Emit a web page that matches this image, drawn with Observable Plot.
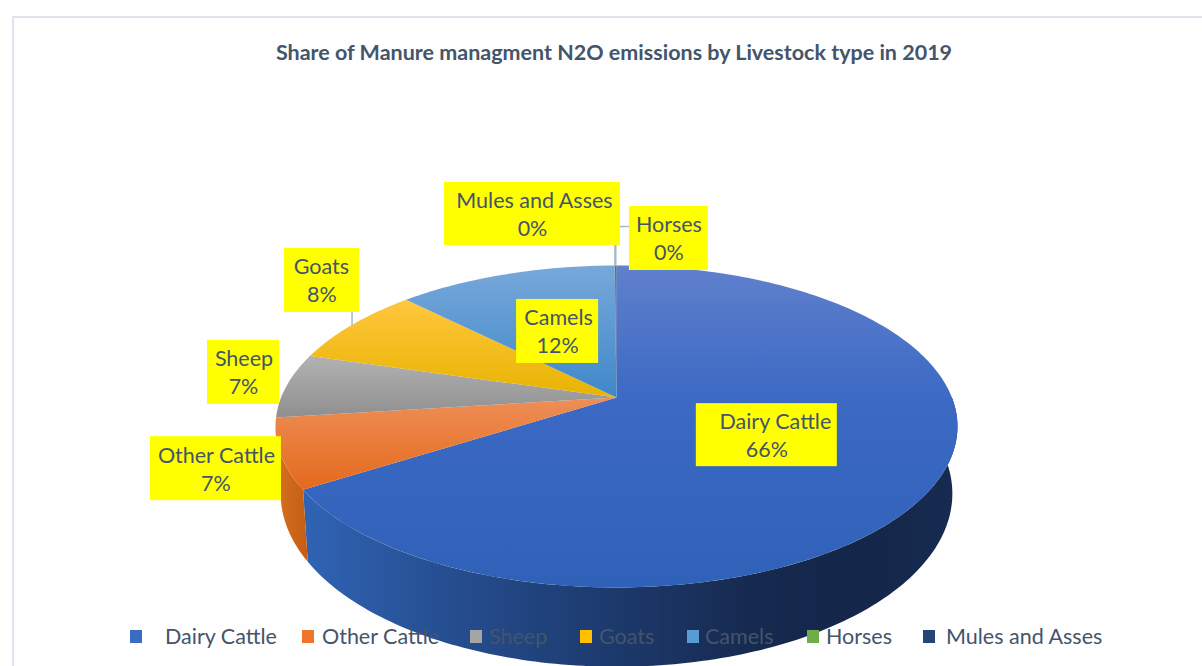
<!DOCTYPE html>
<html>
<head>
<meta charset="utf-8">
<script src="https://cdn.jsdelivr.net/npm/d3@7"></script>
<script src="https://cdn.jsdelivr.net/npm/@observablehq/plot@0.6"></script>
<style>
  html, body { margin: 0; padding: 0; background: #fff; }
  #chart { position: relative; width: 1202px; height: 666px; overflow: hidden; font-family: Lato, sans-serif; color: #44546a; }
  #chart svg { position: absolute; left: 0; top: 0; }
  #frame { position: absolute; left: 12px; top: 16px; width: 1300px; height: 800px; border: 2px solid #dfe4ec; background: #fefefe; }
  #title { position: absolute; left: 0; width: 1228px; top: 38px; text-align: center; font-weight: 700; font-size: 21.5px; line-height: 28px; }
  .lg { position: absolute; top: 622px; font-size: 21.5px; line-height: 28px; white-space: nowrap; }
  .sw { position: absolute; top: 630px; width: 12px; height: 13px; }
</style>
</head>
<body>
<div id="chart">
  <div id="frame"></div>
  <div id="plot"></div>
  <div id="title"></div>
  <div id="legend"></div>
</div>
<script>
// --- data ---
const titleText = "Share of Manure managment N2O emissions by Livestock type in 2019";
const categories = ["Dairy Cattle", "Other Cattle", "Sheep", "Goats", "Camels", "Horses", "Mules and Asses"];
const shares = [66.0, 7.0, 6.5, 8.0, 12.4, 0.02, 0.08];
const swatchColors = ["#3b6cc4", "#ed7428", "#a5a5a5", "#ffc000", "#5b9bd5", "#70ad47", "#264478"];

// --- layout (not data) ---
const W = 1202, H = 666;
const P = {cx: 616, a: 397, b: 84.3, c: -0.18, d: 335.4, depth: 65, lowerScale: 0.985};
// label box: offset of its centre from the slice's rim midpoint, its size, and a shift of the first line
const labelLayout = [
  {dx: -171.5, dy: -44.5, w: 141, h: 63, line1: 8.5},
  {dx: -64.5, dy: 15, w: 131, h: 64, line1: 0.5},
  {dx: -43.3, dy: -13, w: 72, h: 64, line1: 0.5},
  {dx: -30.1, dy: -44.4, w: 75, h: 64, line1: -0.5},
  {dx: 52, dy: 57.2, w: 82, h: 64, line1: 1},
  {dx: 54, dy: -27, w: 79, h: 64, line1: 0},
  {dx: -83.3, dy: -51.5, w: 176, h: 63, line1: 2}
];
const legendLayout = [[130, 165], [302, 322], [470, 489], [580, 599], [687, 705], [807, 826], [923, 946]];
const topGradients = [
  [["#6080cc", 265], ["#3b69c4", 400], ["#3061b8", 587]],
  [["#ee8d55", 400], ["#e4691c", 490]],
  [["#b2b2b2", 355], ["#8f8f8f", 417]],
  [["#ffc73f", 299], ["#e8b300", 397]],
  [["#78a8da", 265], ["#3f88c9", 397]],
  [["#70ad47", 265], ["#70ad47", 397]],
  [["#3a5a9a", 265], ["#2a4d88", 397]]
];

// --- perspective pie model ---
const total = d3.sum(shares);
const cum = Array.from(d3.cumsum(shares), v => v / total);
const starts = [0, ...cum.slice(0, -1)];
function rim(frac, lower = false) {
  const t = frac * 2 * Math.PI, u = Math.sin(t), v = -Math.cos(t), den = 1 + P.c * v;
  const s = lower ? P.lowerScale : 1, h = lower ? P.depth : 0;
  return {x: P.cx + s * P.d * u / den, y: (P.a + P.b * v + h) / den};
}
const apex = {x: P.cx, y: P.a};
function arc(f0, f1, lower) {
  const n = Math.max(2, Math.ceil((f1 - f0) * 360));
  return d3.range(n + 1).map(i => rim(f0 + (f1 - f0) * i / n, lower));
}
const slicePolys = categories.map((c, i) => [apex, ...arc(starts[i], cum[i], false), apex]);
const wallEnd = 0.721; // silhouette of the pie on the left
const wallPoly = (f0, f1) => [...arc(f0, f1, false), ...arc(f0, f1, true).reverse()];
const dairyWall = wallPoly(0.25, cum[0]);
const otherWall = wallPoly(starts[1], wallEnd);

const labels = categories.map((c, i) => {
  const m = rim((starts[i] + cum[i]) / 2), L = labelLayout[i];
  const x = m.x + L.dx, y = m.y + L.dy;
  return {name: c, pct: `${Math.round(shares[i])}%`, m, x, y, xName: x + L.line1,
          x1: x - L.w / 2, x2: x + L.w / 2, y1: y - L.h / 2, y2: y + L.h / 2};
});
const goatsM = labels[3].m, horsesM = labels[5].m, mulesM = labels[6].m;
const leaders = [
  [goatsM, {x: goatsM.x, y: labels[3].y2}],
  [mulesM, {x: mulesM.x, y: labels[6].y2}],
  [horsesM, {x: horsesM.x, y: labels[5].y - 12}, {x: labels[5].x1, y: labels[5].y - 12}]
];

function defs() {
  const d = d3.create("svg:defs");
  const add = (id, horizontal, stops) => {
    const a = stops[0][1], z = stops[stops.length - 1][1];
    const g = d.append("linearGradient").attr("id", id).attr("gradientUnits", "userSpaceOnUse")
      .attr("x1", horizontal ? a : 0).attr("x2", horizontal ? z : 0)
      .attr("y1", horizontal ? 0 : a).attr("y2", horizontal ? 0 : z);
    stops.forEach(([col, p]) => g.append("stop").attr("offset", (p - a) / (z - a)).attr("stop-color", col));
  };
  topGradients.forEach((s, i) => add(`top${i}`, false, s));
  add("wallDairy", true, [["#3063b4", 305], ["#264f92", 440], ["#1d3b6f", 600], ["#16294e", 760], ["#14264a", 860], ["#172b50", 955]]);
  add("wallOther", true, [["#d56d1e", 280], ["#c05b10", 312]]);
  return d.node();
}

const lineOpts = f => ({x: "x", y: "y", fill: f, stroke: "none", curve: "linear"});
const textOpts = {fontFamily: "Lato, sans-serif", fontSize: 21.5, fill: "#44546a"};
const plot = Plot.plot({
  width: W, height: H, margin: 0,
  style: {background: "transparent", overflow: "visible"},
  x: {domain: [0, W], range: [0, W], axis: null},
  y: {domain: [0, H], range: [0, H], axis: null},
  marks: [
    defs,
    Plot.line(dairyWall, lineOpts("url(#wallDairy)")),
    Plot.line(otherWall, lineOpts("url(#wallOther)")),
    ...slicePolys.map((p, i) => Plot.line(p, lineOpts(`url(#top${i})`))),
    ...leaders.map(l => Plot.line(l, {x: "x", y: "y", stroke: "#a9b8cc", strokeWidth: 1.5, curve: "linear"})),
    Plot.rect(labels, {x1: "x1", x2: "x2", y1: "y1", y2: "y2", fill: "#ffff00"}),
    Plot.text(labels, {x: "xName", y: "y", text: "name", dy: -13, ...textOpts}),
    Plot.text(labels, {x: "x", y: "y", text: "pct", dy: 15, ...textOpts})
  ]
});
document.getElementById("plot").append(plot);

// legend, laid over the foot of the pie as in the reference
const legend = document.getElementById("legend");
categories.forEach((c, i) => {
  const sw = document.createElement("div");
  sw.className = "sw"; sw.style.left = legendLayout[i][0] + "px"; sw.style.background = swatchColors[i];
  const t = document.createElement("div");
  t.className = "lg"; t.style.left = legendLayout[i][1] + "px"; t.textContent = c;
  legend.append(sw, t);
});
document.getElementById("title").textContent = titleText;
</script>
</body>
</html>
